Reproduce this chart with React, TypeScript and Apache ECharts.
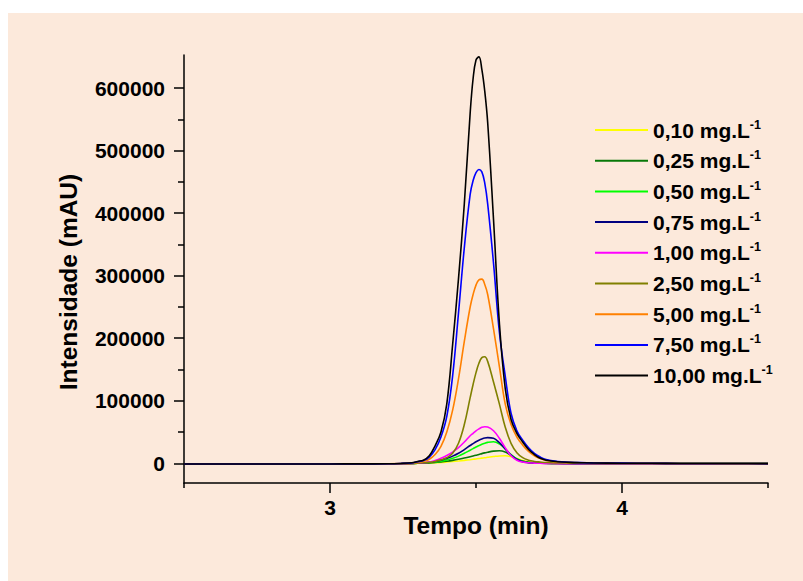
import React, { useEffect, useRef } from "react";
import * as echarts from "echarts";

// Retention time (min)
const times = [
  2.5, 2.6, 2.7, 2.8, 2.9, 3.0, 3.1, 3.2, 3.24, 3.28,
  3.30, 3.32, 3.34, 3.36, 3.38, 3.40, 3.42, 3.44, 3.46, 3.48,
  3.49, 3.50, 3.51, 3.52, 3.53, 3.54,
  3.56, 3.58, 3.60, 3.62, 3.64, 3.66, 3.68, 3.70, 3.72, 3.74,
  3.78, 3.82, 3.86, 3.90,
  4.0, 4.1, 4.2, 4.3, 4.4, 4.5,
];

const seriesNames = [
  "0,10 mg.L", "0,25 mg.L", "0,50 mg.L", "0,75 mg.L", "1,00 mg.L",
  "2,50 mg.L", "5,00 mg.L", "7,50 mg.L", "10,00 mg.L",
];
const unitExponent = "-1";

const seriesColors = [
  "#FFFF00", "#087808", "#00FF00", "#000080", "#FF00FF",
  "#808000", "#FF8000", "#0000FF", "#000000",
];

const c010 = [
  -1200, -1200, -1100, -1100, -1000, -1000, -900, -800, -600, -300,
  0, 200, 400, 800, 1300, 2000, 2800, 3700, 4700, 5800,
  6400, 7000, 7600, 8300, 9000, 9600,
  10800, 11800, 12000, 10500, 7500, 4500, 2200, 1000, 400, 100,
  -200, -400, -500, -500,
  -500, -500, -500, -500, -500, -500,
];
const c025 = [
  -1200, -1200, -1100, -1100, -1000, -1000, -900, -800, -600, -300,
  100, 300, 700, 1300, 2200, 3300, 4700, 6400, 8400, 10600,
  11800, 13000, 14200, 15500, 16700, 17800,
  19500, 20000, 18000, 12500, 7000, 3500, 1500, 600, 200, 0,
  -300, -400, -500, -500,
  -500, -500, -500, -500, -500, -500,
];
const c050 = [
  -1200, -1200, -1100, -1100, -1000, -1000, -900, -800, -600, -300,
  100, 400, 1000, 2000, 3500, 5500, 8000, 11500, 16000, 21000,
  23500, 26000, 28300, 30500, 32200, 33500,
  34500, 31000, 23000, 14000, 7000, 3000, 1200, 500, 200, 0,
  -300, -400, -500, -500,
  -500, -500, -500, -500, -500, -500,
];
const c075 = [
  -1200, -1200, -1100, -1100, -1000, -1000, -900, -800, -600, -300,
  200, 600, 1500, 3000, 5000, 8000, 11500, 16000, 22000, 28500,
  31500, 34500, 37000, 39000, 40500, 41000,
  40000, 33000, 23000, 13000, 6000, 2500, 1000, 400, 100, -200,
  -400, -500, -500, -500,
  -500, -500, -500, -500, -500, -500,
];
const c100 = [
  -1200, -1200, -1100, -1100, -1000, -1000, -900, -800, -600, -300,
  300, 800, 2000, 4500, 8000, 12500, 18000, 25000, 34000, 44000,
  48000, 52000, 55000, 57500, 58500, 58000,
  52000, 40000, 25000, 12000, 5000, 2000, 800, 300, 0, -300,
  -500, -600, -600, -600,
  -600, -600, -600, -600, -600, -600,
];
const c250 = [
  -1200, -1200, -1100, -1100, -1000, -1000, -900, -800, -600, -300,
  300, 800, 1500, 3000, 5500, 9000, 16000, 32000, 62000, 105000,
  126000, 145000, 160000, 169000, 170500, 163000,
  130000, 95000, 58000, 32000, 17000, 9000, 5000, 3000, 2000, 1200,
  600, 300, 0, -200,
  -300, -300, -400, -400, -500, -500,
];
const c500 = [
  -1200, -1200, -1100, -1100, -1000, -1000, -900, -700, -400, 200,
  1500, 3000, 6500, 14000, 27000, 50000, 85000, 135000, 195000, 250000,
  270000, 285000, 293500, 294500, 286000, 270000,
  215000, 155000, 95000, 62000, 42000, 29000, 19000, 12000, 7500, 4500,
  2200, 1300, 800, 500,
  200, 0, -200, -300, -400, -500,
];
const c750 = [
  -1200, -1200, -1100, -1100, -1000, -1000, -900, -700, -300, 500,
  2500, 4500, 10000, 22000, 42000, 75000, 140000, 240000, 345000, 430000,
  452000, 465000, 470000, 466000, 448000, 415000,
  320000, 210000, 140000, 80000, 52000, 37000, 25000, 16000, 10000, 6000,
  3000, 1800, 1100, 700,
  300, 0, -200, -300, -400, -500,
];
const c1000 = [
  -1200, -1200, -1100, -1100, -1000, -1000, -900, -700, -200, 800,
  3000, 5000, 12000, 28000, 50000, 95000, 190000, 295000, 415000, 560000,
  615000, 645000, 650000, 630000, 595000, 545000,
  390000, 225000, 120000, 70000, 48000, 34000, 22000, 14000, 8000, 5000,
  2500, 1500, 1000, 600,
  200, 0, -200, -300, -400, -500,
];

const seriesValues = [c010, c025, c050, c075, c100, c250, c500, c750, c1000];

const yMajorTicks = [0, 100000, 200000, 300000, 400000, 500000, 600000];
const yMinorTicks = [50000, 150000, 250000, 350000, 450000, 550000];
const xMajorTicks = [3, 4];
const xMinorTicks = [2.5, 3.5, 4.5];

const xTitle = "Tempo (min)";
const yTitle = "Intensidade (mAU)";

const FONT = "'Liberation Sans', Arial, Helvetica, sans-serif";

export default function App() {
  const ref = useRef<HTMLDivElement>(null);

  useEffect(() => {
    if (!ref.current) return;
    const chart = echarts.init(ref.current, null, { renderer: "svg" });

    const series = seriesNames.map((name, i) => ({
      name,
      type: "line",
      xAxisIndex: 0,
      yAxisIndex: 0,
      symbol: "none",
      smooth: 0.4,
      lineStyle: { color: seriesColors[i], width: 1.6 },
      itemStyle: { color: seriesColors[i] },
      data: times.map((t, k) => [t, seriesValues[i][k]]),
    }));

    const option: any = {
      animation: false,
      backgroundColor: "#FCE9DB",
      textStyle: { fontFamily: FONT },
      grid: { left: 176, right: 35, top: 42, bottom: 98, containLabel: false },
      legend: {
        orient: "vertical",
        left: 582,
        top: 100,
        icon: "rect",
        itemWidth: 53,
        itemHeight: 2,
        itemGap: 8.2,
        data: seriesNames,
        formatter: (name: string) => `{n|${name}}{s|${unitExponent}}`,
        textStyle: {
          fontFamily: FONT,
          color: "#000",
          rich: {
            n: { fontSize: 21, fontWeight: "bold", fontFamily: FONT, color: "#000", lineHeight: 24 },
            s: { fontSize: 12.5, fontWeight: "bold", fontFamily: FONT, color: "#000", lineHeight: 12, verticalAlign: "top" },
          },
        },
      },
      graphic: [
        {
          type: "text",
          x: 60,
          y: 269,
          rotation: Math.PI / 2,
          style: { text: yTitle, fontSize: 24.5, fontWeight: "bold", fontFamily: FONT, fill: "#000", align: "center", verticalAlign: "middle" },
        },
        {
          type: "text",
          x: 468,
          y: 512,
          style: { text: xTitle, fontSize: 24.5, fontWeight: "bold", fontFamily: FONT, fill: "#000", align: "center", verticalAlign: "middle" },
        },
      ],
      xAxis: [
        {
          type: "value",
          min: 2.5,
          max: 4.5,
          position: "bottom",
          axisLine: { show: true, onZero: false, lineStyle: { color: "#000", width: 1.5 } },
          axisTick: { show: true, inside: false, length: 10, customValues: xMajorTicks, lineStyle: { color: "#000", width: 1.5 } },
          axisLabel: { show: true, customValues: xMajorTicks, margin: 14, fontSize: 21, fontWeight: "bold", color: "#000", fontFamily: FONT, formatter: (v: number) => String(v) },
          splitLine: { show: false },
        },
        {
          type: "value",
          min: 2.5,
          max: 4.5,
          position: "bottom",
          axisLine: { show: false, onZero: false },
          axisTick: { show: true, inside: false, length: 5, customValues: xMinorTicks, lineStyle: { color: "#000", width: 1.5 } },
          axisLabel: { show: false },
          splitLine: { show: false },
        },
      ],
      yAxis: [
        {
          type: "value",
          min: -31500,
          max: 653000,
          position: "left",
          axisLine: { show: true, onZero: false, lineStyle: { color: "#000", width: 1.5 } },
          axisTick: { show: true, inside: false, length: 10, customValues: yMajorTicks, lineStyle: { color: "#000", width: 1.5 } },
          axisLabel: { show: true, customValues: yMajorTicks, margin: 19, fontSize: 21, fontWeight: "bold", color: "#000", fontFamily: FONT, formatter: (v: number) => String(v) },
          splitLine: { show: false },
        },
        {
          type: "value",
          min: -31500,
          max: 653000,
          position: "left",
          axisLine: { show: false, onZero: false },
          axisTick: { show: true, inside: false, length: 6, customValues: yMinorTicks, lineStyle: { color: "#000", width: 1.5 } },
          axisLabel: { show: false },
          splitLine: { show: false },
        },
      ],
      series,
    };

    chart.setOption(option);
    return () => chart.dispose();
  }, []);

  return (
    <div
      ref={ref}
      style={{ position: "fixed", left: 8, top: 13, width: 795, height: 568, background: "#FCE9DB" }}
    />
  );
}
